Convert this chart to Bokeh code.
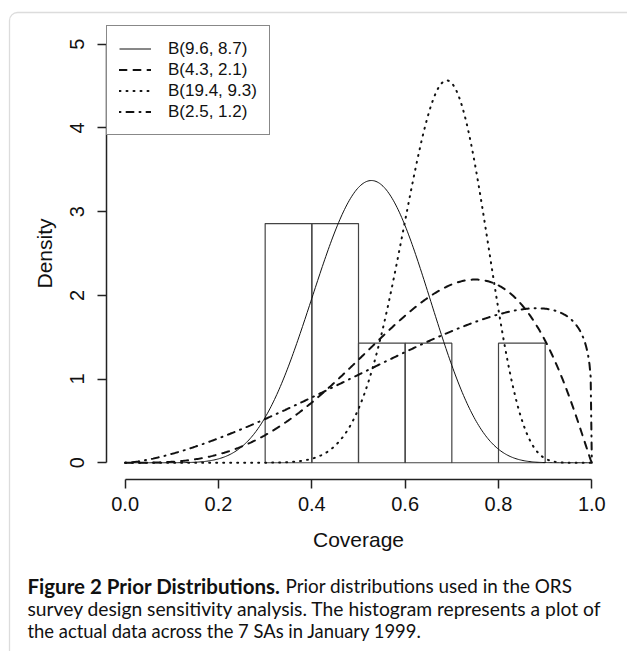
import math
from bokeh.plotting import figure
from bokeh.models import (Range1d, FixedTicker, NumeralTickFormatter, Legend, LegendItem,
                          Label, BoxAnnotation, ColumnDataSource)
from bokeh.embed import file_html
from bokeh.resources import INLINE

# Histogram of the observed coverage across the 7 SAs (density scale)
bin_left = [0.3, 0.4, 0.5, 0.6, 0.7, 0.8]
bin_right = [0.4, 0.5, 0.6, 0.7, 0.8, 0.9]
bin_density = [2.857, 2.857, 1.429, 1.429, 0.0, 1.429]

# Prior Beta distributions
prior_labels = ["B(9.6, 8.7)", "B(4.3, 2.1)", "B(19.4, 9.3)", "B(2.5, 1.2)"]
prior_alpha = [9.6, 4.3, 19.4, 2.5]
prior_beta = [8.7, 2.1, 9.3, 1.2]
prior_dash = ["solid", "7 7", "1 6", "1 6 7 6"]
prior_width = [1.0, 2.0, 2.0, 2.0]

x_ticks = [0.0, 0.2, 0.4, 0.6, 0.8, 1.0]
y_ticks = [0, 1, 2, 3, 4, 5]

caption_bold = "Figure 2 Prior Distributions."
caption_line1 = "Prior distributions used in the ORS"
caption_line2 = "survey design sensitivity analysis. The histogram represents a plot of"
caption_line3 = "the actual data across the 7 SAs in January 1999."


def beta_pdf(x, a, b):
    if x <= 0.0 or x >= 1.0:
        return 0.0
    lb = math.lgamma(a) + math.lgamma(b) - math.lgamma(a + b)
    return math.exp((a - 1) * math.log(x) + (b - 1) * math.log(1 - x) - lb)


xs = [i / 400 for i in range(401)]

# ---- layout (pixels) ----
W, H = 627, 651
reg_left, reg_right, reg_top, reg_bottom = 106, 610, 27, 479   # R plot region on canvas
x_lo, x_hi = -0.04, 1.04
y_lo, y_hi = -0.2, 5.2
px_x = (reg_right - reg_left) / (x_hi - x_lo)
px_y = (reg_bottom - reg_top) / (y_hi - y_lo)
xr = Range1d(x_lo - reg_left / px_x, x_hi + (W - reg_right) / px_x)
yr = Range1d(y_lo - (H - reg_bottom) / px_y, y_hi + reg_top / px_y)

p = figure(width=W, height=H, x_range=xr, y_range=yr,
           output_backend="svg", toolbar_location=None,
           min_border=0, min_border_left=0, min_border_right=0,
           min_border_top=0, min_border_bottom=0,
           x_axis_label="Coverage", y_axis_label="Density")
p.grid.visible = False
p.outline_line_color = None
p.background_fill_color = "white"
p.border_fill_color = "white"

for ax in (p.xaxis[0], p.yaxis[0]):
    ax.axis_line_color = "#222222"
    ax.axis_line_width = 1.5
    ax.major_tick_line_color = "#222222"
    ax.major_tick_line_width = 1.5
    ax.major_tick_out = 9
    ax.major_tick_in = 0
    ax.minor_tick_line_color = None
    ax.major_label_text_font = "Liberation Sans"
    ax.major_label_text_font_size = "20px"
    ax.major_label_text_color = "#111111"
    ax.axis_label_text_font = "Liberation Sans"
    ax.axis_label_text_font_size = "21px"
    ax.axis_label_text_font_style = "normal"
    ax.axis_label_text_color = "#111111"

p.xaxis.fixed_location = y_lo
p.xaxis.bounds = (0, 1)
p.xaxis.ticker = FixedTicker(ticks=x_ticks)
p.xaxis.formatter = NumeralTickFormatter(format="0.0")
p.xaxis.major_label_standoff = 8
p.xaxis.axis_label_standoff = 14

p.yaxis.fixed_location = x_lo
p.yaxis.bounds = (0, 5)
p.yaxis.ticker = FixedTicker(ticks=y_ticks)
p.yaxis.formatter = NumeralTickFormatter(format="0")
p.yaxis.major_label_orientation = "vertical"
p.yaxis.major_label_standoff = 13
p.yaxis.axis_label_standoff = 12

p.quad(left=bin_left, right=bin_right, bottom=0, top=bin_density,
       fill_color=None, line_color="#444444", line_width=1.2)

items = []
for lab, a, b, d, w in zip(prior_labels, prior_alpha, prior_beta, prior_dash, prior_width):
    src = ColumnDataSource(data=dict(x=xs, y=[beta_pdf(x, a, b) for x in xs]))
    r = p.line("x", "y", source=src, line_color="#111111", line_width=w, line_dash=d,
               line_cap="round" if d != "solid" else "butt")
    items.append(LegendItem(label=lab, renderers=[r]))

leg_pad, leg_row = 12, 21
leg_h = 2 * leg_pad + leg_row * len(items)
legend = Legend(items=items, location=(reg_left, H - reg_top - leg_h), margin=0,
                padding=leg_pad, spacing=0,
                glyph_width=32, glyph_height=leg_row, label_height=leg_row, label_standoff=17,
                border_line_color="#111111", border_line_width=1.2,
                background_fill_color="white", background_fill_alpha=1.0,
                label_text_font="Liberation Sans", label_text_font_size="17px",
                label_text_color="#111111")
p.add_layout(legend)

frame_box = BoxAnnotation(left=9, right=900, top=12, bottom=900,
                          left_units="canvas", right_units="canvas",
                          top_units="canvas", bottom_units="canvas",
                          fill_color=None, line_color="#8a8a8a", line_width=1.3,
                          border_radius=8)
p.add_layout(frame_box)

cap_font = "Lato"
p.add_layout(Label(x=27, y=585, x_units="canvas", y_units="canvas", text=caption_bold,
                   text_font=cap_font, text_font_size="20.5px", text_font_style="bold",
                   text_color="#111111", text_baseline="alphabetic"))
p.add_layout(Label(x=285, y=585, x_units="canvas", y_units="canvas", text=caption_line1,
                   text_font=cap_font, text_font_size="18.9px",
                   text_color="#111111", text_baseline="alphabetic"))
p.add_layout(Label(x=27, y=608, x_units="canvas", y_units="canvas", text=caption_line2,
                   text_font=cap_font, text_font_size="19.25px",
                   text_color="#111111", text_baseline="alphabetic"))
p.add_layout(Label(x=27, y=630, x_units="canvas", y_units="canvas", text=caption_line3,
                   text_font=cap_font, text_font_size="18.4px",
                   text_color="#111111", text_baseline="alphabetic"))

open("out.html", "w").write(file_html(p, INLINE))
